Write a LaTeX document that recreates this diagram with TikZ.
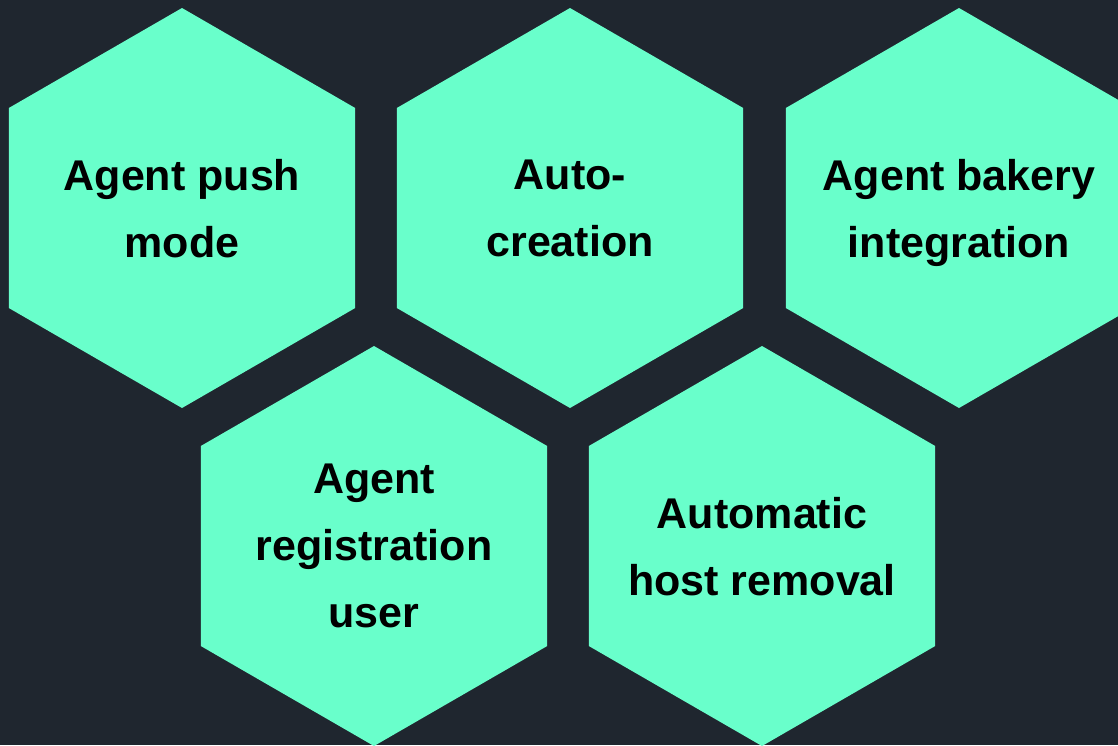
\documentclass[tikz,border=0pt]{standalone}
\usepackage{fontspec}
\setmainfont{Liberation Sans}
\usetikzlibrary{shapes.geometric}
\definecolor{bgdark}{HTML}{1F262F}
\definecolor{hexmint}{HTML}{69FFCB}
\begin{document}
\begin{tikzpicture}[x=1pt,y=-1pt,
  hexbox/.style={regular polygon, regular polygon sides=6, shape border rotate=30,
    minimum size=400pt, inner sep=0pt, fill=hexmint, draw=none},
  hextext/.style={text=black, align=center, inner sep=0pt, text depth=0pt,
    font=\fontsize{43}{67}\selectfont\bfseries}]
\useasboundingbox (0,0) rectangle (1118,745);
\fill[bgdark] (0,0) rectangle (1118,745);
\clip (0,0) rectangle (1118,745);
\node[hexbox] (h1) at (182,208) {};
\node[hexbox] (h2) at (570,208) {};
\node[hexbox] (h3) at (959,208) {};
\node[hexbox] (h4) at (374,546) {};
\node[hexbox] (h5) at (762,546) {};
\node[hextext] (t1) at (h1) {Agent push\\mode};
\node[hextext] (t2) at (h2) {Auto-\\creation};
\node[hextext] (t3) at (h3) {Agent bakery\\integration};
\node[hextext] (t4) at (h4) {Agent\\registration\\user};
\node[hextext] (t5) at (h5) {Automatic\\host removal};
\end{tikzpicture}
\end{document}
